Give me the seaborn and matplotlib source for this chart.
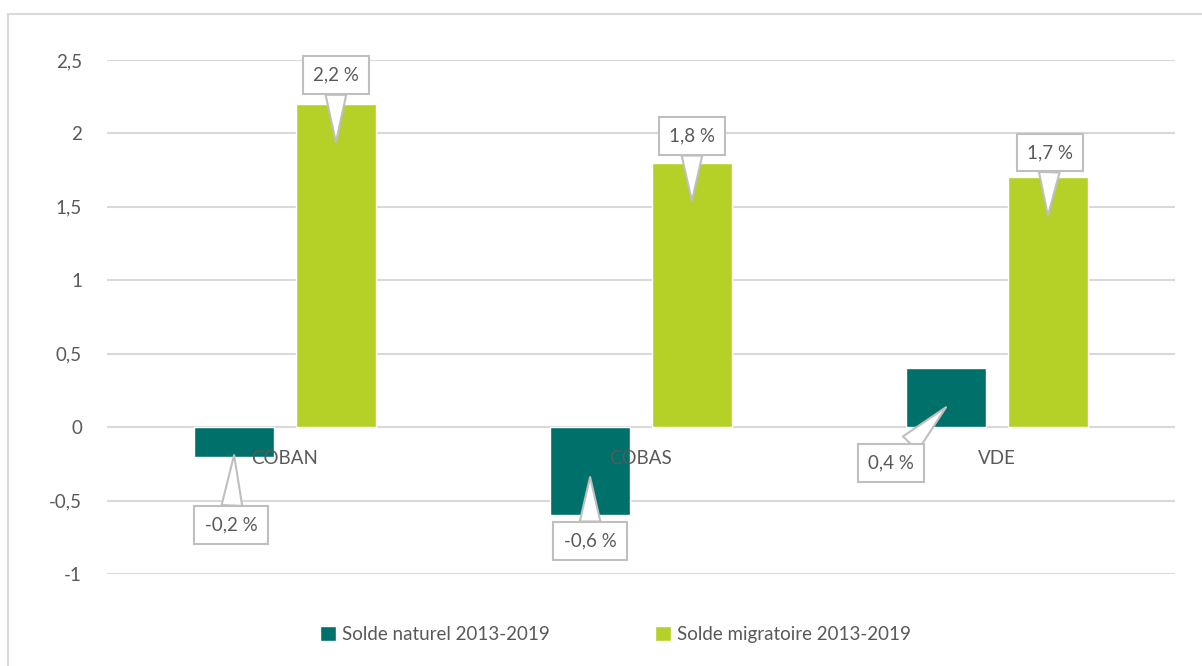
import numpy as np
import pandas as pd
import matplotlib
matplotlib.use('Agg')
import matplotlib.pyplot as plt
from matplotlib.patches import Rectangle
import seaborn as sns

# données
zones = ['COBAN', 'COBAS', 'VDE']
solde_naturel = [-0.2, -0.6, 0.4]
solde_migratoire = [2.2, 1.8, 1.7]
series = ['Solde naturel 2013-2019', 'Solde migratoire 2013-2019']
yticks = [-1, -0.5, 0, 0.5, 1, 1.5, 2, 2.5]

df = pd.DataFrame({
    'zone': zones * 2,
    'valeur': solde_naturel + solde_migratoire,
    'serie': [series[0]] * 3 + [series[1]] * 3,
})

teal = '#00706b'
lime = '#b5d026'
txt = '#595959'
fs = 13.5

sns.set_style('white')
plt.rcParams['font.family'] = ['Lato', 'DejaVu Sans']

fig = plt.figure(figsize=(12.02, 6.66), dpi=100)
ax = fig.add_axes([107/1202, 1-574/666, (1175-107)/1202, (574-60)/666])

sns.barplot(data=df, x='zone', y='valeur', hue='serie', palette=[teal, lime],
            width=0.572, gap=0.213, saturation=1, errorbar=None, ax=ax)

ax.set_ylim(-1, 2.5)
ax.set_xlim(-0.5, 2.5)
ax.set_yticks(yticks)
ax.set_yticklabels([('%g' % t).replace('.', ',') for t in yticks], color=txt, fontsize=fs)
ax.tick_params(axis='y', length=0, pad=18)
ax.set_xticks([])
ax.set_xlabel('')
ax.set_ylabel('')
ax.set_axisbelow(True)
ax.yaxis.grid(True, color='#d9d9d9', lw=1.5)
for s in ax.spines.values():
    s.set_visible(False)

# noms des zones, au-dessus des barres
for i, z in enumerate(zones):
    ax.annotate(z, (i, 0), xytext=(0, -31), textcoords='offset pixels',
                ha='center', va='center', color=txt, fontsize=fs, zorder=5)

# bulles d'étiquettes : (décalage de la pointe en données, décalage du texte en pixels)
callouts = [
    [(0.01, (-3, -70)), (0.26, (0, -64)), (-0.264, (-55, -56))],
    [(-0.26, (0, 67)), (-0.26, (0, 65)), (-0.26, (2, 63))],
]
for k, (cont, vals) in enumerate(zip(ax.containers, [solde_naturel, solde_migratoire])):
    for bar, v, (dy, off) in zip(cont, vals, callouts[k]):
        xc = bar.get_x() + bar.get_width() / 2
        ax.annotate(('%.1f %%' % v).replace('.', ','), (xc, v + dy),
                    xytext=off, textcoords='offset pixels',
                    ha='center', va='center', color=txt, fontsize=fs, zorder=6,
                    bbox=dict(boxstyle='square,pad=0.55', fc='white', ec='#bfbfbf', lw=1.5),
                    arrowprops=dict(arrowstyle='wedge,tail_width=1.1,shrink_factor=0.5',
                                    fc='white', ec='#bfbfbf', lw=1.5,
                                    shrinkA=0, shrinkB=0))

leg = ax.legend(loc='center', bbox_to_anchor=(0.512, 0.047), bbox_transform=fig.transFigure,
                ncol=2, frameon=False, fontsize=fs, handlelength=0.85, handleheight=0.85,
                handletextpad=0.35, columnspacing=5.6)
for t in leg.get_texts():
    t.set_color(txt)

fig.add_artist(Rectangle((8/1202, -0.01), 1.0, (666-14)/666 + 0.01, transform=fig.transFigure,
                         fill=False, ec='#d9d9d9', lw=1.5))

fig.savefig('out.png', dpi=100)
